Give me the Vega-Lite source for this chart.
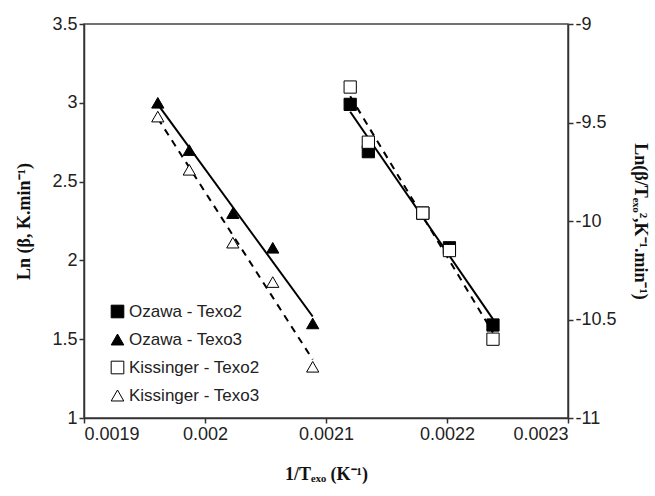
{
  "$schema": "https://vega.github.io/schema/vega-lite/v6.json",
  "width": 484,
  "height": 394,
  "autosize": {"type": "none"},
  "padding": {"left": 84, "top": 24, "right": 87, "bottom": 78},
  "background": "white",
  "config": {
    "view": {"stroke": "#444", "strokeWidth": 1.5},
    "axis": {
      "labelFont": "Liberation Sans",
      "labelFontSize": 18,
      "labelColor": "#222",
      "titleFont": "Liberation Serif",
      "titleFontWeight": "bold",
      "titleFontSize": 18,
      "titleColor": "#111",
      "domainColor": "#333",
      "domainWidth": 1.5,
      "tickColor": "#333",
      "tickWidth": 1.5,
      "tickSize": 5,
      "labelPadding": 2,
      "grid": false
    },
    "legend": {
      "labelFont": "Liberation Sans",
      "labelFontSize": 17,
      "labelColor": "#222",
      "symbolSize": 160,
      "symbolStrokeWidth": 1,
      "rowPadding": 10,
      "labelOffset": 3,
      "padding": 0
    }
  },
  "data": {
    "values": [
      {"method": "Ozawa", "series": "Ozawa - Texo3", "x": 0.001961, "y": 3.00},
      {"method": "Ozawa", "series": "Ozawa - Texo3", "x": 0.001987, "y": 2.70},
      {"method": "Ozawa", "series": "Ozawa - Texo3", "x": 0.002023, "y": 2.30},
      {"method": "Ozawa", "series": "Ozawa - Texo3", "x": 0.002056, "y": 2.08},
      {"method": "Ozawa", "series": "Ozawa - Texo3", "x": 0.002089, "y": 1.60},
      {"method": "Kissinger", "series": "Kissinger - Texo3", "x": 0.001961, "y": -9.47},
      {"method": "Kissinger", "series": "Kissinger - Texo3", "x": 0.001987, "y": -9.74},
      {"method": "Kissinger", "series": "Kissinger - Texo3", "x": 0.002023, "y": -10.11},
      {"method": "Kissinger", "series": "Kissinger - Texo3", "x": 0.002056, "y": -10.31},
      {"method": "Kissinger", "series": "Kissinger - Texo3", "x": 0.002089, "y": -10.74},
      {"method": "Ozawa", "series": "Ozawa - Texo2", "x": 0.002120, "y": 2.99},
      {"method": "Ozawa", "series": "Ozawa - Texo2", "x": 0.002135, "y": 2.69},
      {"method": "Ozawa", "series": "Ozawa - Texo2", "x": 0.002180, "y": 2.30},
      {"method": "Ozawa", "series": "Ozawa - Texo2", "x": 0.002202, "y": 2.08},
      {"method": "Ozawa", "series": "Ozawa - Texo2", "x": 0.002238, "y": 1.59},
      {"method": "Kissinger", "series": "Kissinger - Texo2", "x": 0.002120, "y": -9.32},
      {"method": "Kissinger", "series": "Kissinger - Texo2", "x": 0.002135, "y": -9.60},
      {"method": "Kissinger", "series": "Kissinger - Texo2", "x": 0.002180, "y": -9.96},
      {"method": "Kissinger", "series": "Kissinger - Texo2", "x": 0.002202, "y": -10.15},
      {"method": "Kissinger", "series": "Kissinger - Texo2", "x": 0.002238, "y": -10.60}
    ]
  },
  "layer": [
    {
      "transform": [{"filter": "datum.method === 'Ozawa'"}],
      "layer": [
        {
          "mark": {"type": "line", "color": "black", "strokeWidth": 2},
          "transform": [{"regression": "y", "on": "x", "groupby": ["series"]}],
          "encoding": {
            "x": {"field": "x", "type": "quantitative", "scale": {"domain": [0.0019, 0.0023], "zero": false, "nice": false}},
            "y": {"field": "y", "type": "quantitative", "scale": {"domain": [1, 3.5], "zero": false, "nice": false}},
            "detail": {"field": "series"}
          }
        },
        {
          "mark": {"type": "point", "filled": true, "strokeWidth": 1, "size": 150, "opacity": 1},
          "encoding": {
            "x": {
              "field": "x", "type": "quantitative",
              "scale": {"domain": [0.0019, 0.0023], "zero": false, "nice": false},
              "axis": {"values": [0.0019, 0.002, 0.0021, 0.0022, 0.0023], "format": "~g", "title": "1/Tₑₓₒ (K⁻¹)", "titlePadding": 22}
            },
            "y": {
              "field": "y", "type": "quantitative",
              "scale": {"domain": [1, 3.5], "zero": false, "nice": false},
              "axis": {"orient": "left", "values": [1, 1.5, 2, 2.5, 3, 3.5], "format": "~g", "title": "Ln (β, K.min⁻¹)", "titlePadding": 18}
            },
            "shape": {
              "field": "series", "type": "nominal",
              "scale": {"domain": ["Ozawa - Texo2", "Ozawa - Texo3", "Kissinger - Texo2", "Kissinger - Texo3"], "range": ["square", "triangle-up", "square", "triangle-up"]},
              "legend": {"orient": "none", "legendX": 25, "legendY": 279, "title": null}
            },
            "fill": {
              "field": "series", "type": "nominal",
              "scale": {"domain": ["Ozawa - Texo2", "Ozawa - Texo3", "Kissinger - Texo2", "Kissinger - Texo3"], "range": ["black", "black", "white", "white"]},
              "legend": {"orient": "none", "legendX": 25, "legendY": 279, "title": null}
            },
            "stroke": {
              "field": "series", "type": "nominal",
              "scale": {"domain": ["Ozawa - Texo2", "Ozawa - Texo3", "Kissinger - Texo2", "Kissinger - Texo3"], "range": ["black", "black", "black", "black"]},
              "legend": {"orient": "none", "legendX": 25, "legendY": 279, "title": null}
            }
          }
        }
      ]
    },
    {
      "transform": [{"filter": "datum.method === 'Kissinger'"}],
      "layer": [
        {
          "mark": {"type": "line", "color": "black", "strokeWidth": 2, "strokeDash": [7, 6]},
          "transform": [{"regression": "y", "on": "x", "groupby": ["series"]}],
          "encoding": {
            "x": {"field": "x", "type": "quantitative", "scale": {"domain": [0.0019, 0.0023], "zero": false, "nice": false}},
            "y": {"field": "y", "type": "quantitative", "scale": {"domain": [-11, -9], "zero": false, "nice": false}},
            "detail": {"field": "series"}
          }
        },
        {
          "mark": {"type": "point", "filled": true, "strokeWidth": 1, "size": 150, "opacity": 1},
          "encoding": {
            "x": {"field": "x", "type": "quantitative", "scale": {"domain": [0.0019, 0.0023], "zero": false, "nice": false}},
            "y": {
              "field": "y", "type": "quantitative",
              "scale": {"domain": [-11, -9], "zero": false, "nice": false},
              "axis": {"orient": "right", "values": [-11, -10.5, -10, -9.5, -9], "labelExpr": "'' + datum.value", "title": "Ln(β/Tₑₓₒ²,K⁻¹.min⁻¹)", "titlePadding": 14}
            },
            "shape": {
              "field": "series", "type": "nominal",
              "scale": {"domain": ["Ozawa - Texo2", "Ozawa - Texo3", "Kissinger - Texo2", "Kissinger - Texo3"], "range": ["square", "triangle-up", "square", "triangle-up"]},
              "legend": {"orient": "none", "legendX": 25, "legendY": 279, "title": null}
            },
            "fill": {
              "field": "series", "type": "nominal",
              "scale": {"domain": ["Ozawa - Texo2", "Ozawa - Texo3", "Kissinger - Texo2", "Kissinger - Texo3"], "range": ["black", "black", "white", "white"]},
              "legend": {"orient": "none", "legendX": 25, "legendY": 279, "title": null}
            },
            "stroke": {
              "field": "series", "type": "nominal",
              "scale": {"domain": ["Ozawa - Texo2", "Ozawa - Texo3", "Kissinger - Texo2", "Kissinger - Texo3"], "range": ["black", "black", "black", "black"]},
              "legend": {"orient": "none", "legendX": 25, "legendY": 279, "title": null}
            }
          }
        }
      ]
    }
  ],
  "resolve": {"scale": {"y": "independent"}}
}
